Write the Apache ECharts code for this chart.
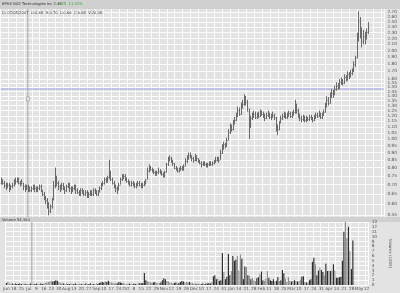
<!DOCTYPE html>
<html><head><meta charset="utf-8">
<script src="https://cdn.jsdelivr.net/npm/echarts@6/dist/echarts.min.js"></script>
<style>html,body{margin:0;padding:0;background:#e3e3e3}#c{width:400px;height:293px}</style>
</head><body><div id="c"></div>
<script>
// ---- data ----
const opens = [
0.71,0.72,0.71,0.70,0.69,0.70,0.68,0.69,
0.70,0.71,0.72,0.73,0.71,0.70,
0.71,0.69,0.68,0.69,0.68,0.67,0.68,0.69,0.68,0.67,0.68,0.69,
0.67,0.65,0.63,0.62,0.60,0.57,0.59,
0.63,0.70,0.74,
0.71,0.69,0.68,0.70,0.68,0.67,0.69,0.70,0.68,0.67,0.68,0.69,
0.67,0.66,0.65,0.67,0.66,0.65,0.66,0.64,0.65,0.66,0.65,0.67,0.66,0.65,
0.66,0.68,0.70,0.71,0.73,0.72,
0.74,
0.77,0.73,0.71,0.69,0.68,0.67,
0.70,0.73,0.74,0.75,
0.73,0.72,0.71,0.70,0.71,0.70,0.69,0.70,0.71,0.70,0.69,0.70,0.71,
0.73,0.78,0.80,
0.79,0.78,0.77,0.76,0.77,0.78,0.77,0.76,0.75,
0.77,0.82,0.85,0.86,0.84,
0.83,0.80,0.79,0.78,0.79,0.80,0.79,
0.81,0.84,0.86,0.88,0.87,0.86,0.85,0.87,
0.86,0.84,0.83,0.82,0.83,0.82,0.81,0.82,0.83,0.82,0.83,
0.84,0.85,0.86,
0.85,0.90,0.94,0.96,0.95,
0.99,1.06,1.10,1.08,1.14,
1.16,1.20,1.26,1.22,1.30,1.32,1.38,1.34,
1.25,
1.10,1.18,1.20,1.22,1.19,1.21,1.20,1.23,1.22,1.20,1.18,1.21,1.22,1.19,1.20,1.21,
1.19,1.10,1.08,
1.14,1.18,1.20,1.22,1.19,1.21,1.23,1.20,1.22,
1.24,1.30,
1.26,1.20,1.18,1.17,1.19,1.16,1.18,1.17,1.19,1.18,
1.16,1.19,1.21,1.20,1.22,1.19,1.21,
1.24,1.30,1.36,1.33,1.40,1.44,1.42,1.48,
1.52,1.50,1.56,1.58,1.55,1.62,1.60,1.66,1.64,1.68,
1.70,1.80,
1.90,2.20,
2.50,2.30,2.15,2.25,
2.20,2.32
];
const closes = [
0.72,0.71,0.70,0.69,0.70,0.68,0.69,0.70,
0.71,0.72,0.73,0.71,0.70,0.72,
0.69,0.68,0.69,0.68,0.67,0.68,0.69,0.68,0.67,0.68,0.69,0.67,
0.65,0.63,0.62,0.60,0.57,0.59,0.62,
0.70,0.74,0.71,
0.69,0.68,0.70,0.68,0.67,0.69,0.70,0.68,0.67,0.68,0.69,0.67,
0.66,0.65,0.67,0.66,0.65,0.66,0.64,0.65,0.66,0.65,0.67,0.66,0.65,0.66,
0.68,0.70,0.71,0.73,0.72,0.74,
0.78,
0.73,0.71,0.69,0.68,0.67,0.70,
0.73,0.74,0.75,0.73,
0.72,0.71,0.70,0.71,0.70,0.69,0.70,0.71,0.70,0.69,0.70,0.71,0.72,
0.78,0.80,0.79,
0.78,0.77,0.76,0.77,0.78,0.77,0.76,0.75,0.77,
0.82,0.85,0.86,0.84,0.83,
0.80,0.79,0.78,0.79,0.80,0.79,0.81,
0.84,0.86,0.88,0.87,0.86,0.85,0.87,0.86,
0.84,0.83,0.82,0.83,0.82,0.81,0.82,0.83,0.82,0.83,0.84,
0.85,0.86,0.85,
0.90,0.94,0.96,0.95,0.99,
1.06,1.10,1.08,1.14,1.16,
1.20,1.26,1.22,1.30,1.32,1.38,1.34,1.28,
1.10,
1.18,1.20,1.22,1.19,1.21,1.20,1.23,1.22,1.20,1.18,1.21,1.22,1.19,1.20,1.21,1.19,
1.10,1.08,1.14,
1.18,1.20,1.22,1.19,1.21,1.23,1.20,1.22,1.24,
1.30,1.26,
1.20,1.18,1.17,1.19,1.16,1.18,1.17,1.19,1.18,1.16,
1.19,1.21,1.20,1.22,1.19,1.21,1.24,
1.30,1.36,1.33,1.40,1.44,1.42,1.48,1.52,
1.50,1.56,1.58,1.55,1.62,1.60,1.66,1.64,1.68,1.70,
1.80,1.88,
2.20,2.55,
2.30,2.15,2.25,2.20,
2.32,2.40
];
const lows = [
0.70,0.70,0.68,0.67,0.68,0.66,0.67,0.68,
0.69,0.70,0.71,0.70,0.69,0.70,
0.67,0.66,0.67,0.66,0.66,0.66,0.67,0.66,0.66,0.66,0.67,0.66,
0.64,0.62,0.60,0.58,0.55,0.56,0.58,
0.62,0.68,0.69,
0.67,0.66,0.67,0.67,0.65,0.66,0.68,0.66,0.65,0.66,0.67,0.65,
0.65,0.64,0.64,0.65,0.64,0.64,0.63,0.63,0.64,0.64,0.64,0.65,0.64,0.64,
0.66,0.67,0.69,0.70,0.71,0.71,
0.73,
0.72,0.70,0.68,0.66,0.65,0.67,
0.70,0.72,0.73,0.72,
0.71,0.70,0.69,0.69,0.69,0.68,0.68,0.69,0.69,0.68,0.68,0.69,0.70,
0.73,0.77,0.78,
0.77,0.76,0.75,0.75,0.76,0.76,0.75,0.74,0.74,
0.77,0.81,0.84,0.83,0.81,
0.79,0.78,0.77,0.77,0.78,0.78,0.78,
0.81,0.83,0.85,0.86,0.84,0.83,0.84,0.84,
0.83,0.82,0.80,0.81,0.81,0.80,0.80,0.81,0.81,0.81,0.82,
0.83,0.84,0.83,
0.85,0.89,0.92,0.93,0.94,
0.99,1.04,1.06,1.07,1.12,
1.15,1.19,1.20,1.21,1.27,1.30,1.30,1.24,
1.00,
1.09,1.16,1.18,1.17,1.17,1.18,1.19,1.20,1.18,1.15,1.17,1.19,1.17,1.16,1.18,1.16,
1.06,1.03,1.07,
1.13,1.16,1.18,1.17,1.17,1.19,1.18,1.18,1.20,
1.22,1.22,
1.18,1.15,1.14,1.15,1.14,1.14,1.15,1.15,1.16,1.14,
1.15,1.17,1.18,1.19,1.17,1.17,1.20,
1.23,1.28,1.30,1.32,1.38,1.38,1.41,1.46,
1.47,1.48,1.53,1.52,1.54,1.57,1.58,1.60,1.62,1.65,
1.69,1.76,
1.88,2.15,
2.20,2.05,2.10,2.10,
2.18,2.28
];
const highs = [
0.74,0.73,0.72,0.71,0.71,0.71,0.70,0.71,
0.73,0.74,0.74,0.74,0.72,0.73,
0.71,0.70,0.70,0.70,0.69,0.69,0.70,0.70,0.69,0.69,0.70,0.70,
0.67,0.66,0.64,0.63,0.61,0.60,0.63,
0.72,0.80,0.75,
0.72,0.70,0.71,0.71,0.69,0.70,0.71,0.71,0.69,0.69,0.70,0.70,
0.68,0.67,0.68,0.68,0.67,0.67,0.67,0.66,0.67,0.67,0.68,0.68,0.67,0.67,
0.69,0.71,0.72,0.74,0.74,0.75,
0.85,
0.78,0.74,0.72,0.70,0.69,0.71,
0.74,0.76,0.76,0.76,
0.74,0.73,0.72,0.72,0.72,0.71,0.71,0.72,0.72,0.71,0.71,0.72,0.73,
0.80,0.82,0.81,
0.80,0.79,0.78,0.78,0.80,0.79,0.78,0.77,0.78,
0.83,0.87,0.88,0.87,0.85,
0.83,0.81,0.80,0.80,0.81,0.81,0.82,
0.86,0.88,0.90,0.90,0.88,0.87,0.89,0.88,
0.86,0.85,0.84,0.84,0.84,0.83,0.83,0.84,0.84,0.84,0.85,
0.87,0.87,0.87,
0.92,0.96,0.98,0.97,1.01,
1.08,1.13,1.12,1.16,1.19,
1.23,1.29,1.28,1.33,1.36,1.42,1.40,1.36,
1.27,
1.20,1.23,1.25,1.24,1.23,1.24,1.26,1.25,1.24,1.22,1.23,1.25,1.23,1.22,1.24,1.22,
1.19,1.12,1.15,
1.20,1.22,1.24,1.23,1.23,1.25,1.24,1.24,1.26,
1.36,1.32,
1.27,1.22,1.20,1.21,1.20,1.20,1.19,1.21,1.21,1.19,
1.21,1.23,1.23,1.25,1.23,1.23,1.26,
1.33,1.40,1.39,1.44,1.48,1.47,1.52,1.56,
1.55,1.60,1.62,1.60,1.66,1.65,1.70,1.69,1.72,1.74,
1.84,1.92,
2.30,2.72,
2.60,2.40,2.35,2.32,
2.38,2.50
];
// volume in units of 100K shares
const volumes = [
0.4,0.6,0.3,0.2,0.3,0.2,0.3,0.2,
0.2,0.3,0.2,0.2,0.3,0.2,
0.2,0.2,0.3,0.2,0.2,0.2,0.3,0.2,0.2,0.3,0.2,0.3,
0.4,0.5,0.6,0.7,0.9,0.7,0.8,
1.0,0.9,0.6,
0.4,0.3,0.3,0.2,0.3,0.2,0.2,0.3,0.2,0.2,0.3,0.2,
0.2,0.3,0.2,0.2,0.2,0.3,0.2,0.2,0.3,0.2,0.2,0.2,0.3,0.2,
0.4,0.5,0.6,0.5,0.7,0.6,
0.9,
0.6,0.5,0.4,0.3,0.4,0.3,
0.6,0.5,0.4,0.3,
0.3,0.2,0.2,0.3,0.2,0.2,0.3,0.2,0.2,0.3,0.4,0.3,0.4,
2.5,1.0,0.8,
0.6,0.5,0.4,0.5,0.6,0.4,0.3,0.4,0.5,
1.0,1.4,1.2,0.8,0.7,
0.5,0.4,0.3,0.4,0.5,0.3,0.4,
0.6,0.8,0.7,0.5,0.6,0.5,0.6,0.4,
0.4,0.3,0.3,0.2,0.3,0.2,0.2,0.3,0.2,0.3,0.3,
0.4,0.3,0.5,
1.8,2.0,1.2,1.3,0.9,
1.0,6.6,2.7,1.2,1.7,
6.4,2.0,2.9,6.0,5.0,5.2,6.0,3.0,
6.3,
5.4,1.2,3.8,3.7,2.0,1.9,1.2,1.5,1.0,0.8,1.4,1.6,2.2,2.8,1.0,0.9,
1.3,2.9,1.5,
1.0,0.8,1.2,0.7,0.9,1.6,0.8,1.0,3.1,
2.4,1.3,
0.6,1.6,0.9,0.7,0.8,1.0,0.9,0.7,0.8,1.1,
1.7,1.8,0.6,0.5,0.4,1.0,1.2,
4.8,5.6,4.3,2.0,3.0,3.6,3.1,2.7,
2.0,4.4,2.9,3.0,2.9,3.0,4.3,3.0,1.5,1.5,1.6,
1.7,5.0,11.0,13.0,9.7,12.0,7.0,3.3,9.2
];
const priceTicks = [2.70,2.60,2.50,2.40,2.30,2.20,2.10,2.00,1.90,1.80,1.70,1.60,1.55,1.50,1.45,1.40,1.35,1.30,1.25,1.20,1.15,1.10,1.05,1.00,0.95,0.90,0.85,0.80,0.75,0.70,0.65,0.60,0.55];
const priceMin = 0.543, priceMax = 2.77;
const volMax = 13;
const refLine = 1.48;
const markerIndex = 17;
const markerPrice = 1.37;
const monthNames = ['Jan','Feb','Mar','Apr','May','Jun','Jul','Aug','Sep','Oct','Nov','Dec'];
const titleText = 'BPHX BG2 Technologies Inc 2.48';
const changeText = '0.25  11.21%';
const infoText = 'D: 07/05/2007  O:0.69  H:0.70  L:0.66  C:0.68  V:20.0K';
const volTitle = 'Volume 54,300';

// trading-day categories (weekdays) from 2007-06-11, with room after the last bar
const nCats = 242;
const dates = [];
{
  const d = new Date(Date.UTC(2007, 5, 11));
  while (dates.length < nCats) {
    const wd = d.getUTCDay();
    if (wd > 0 && wd < 6) dates.push(d.toISOString().slice(0, 10));
    d.setUTCDate(d.getUTCDate() + 1);
  }
}
const isWeekStart = (idx) => new Date(dates[idx] + 'T00:00:00Z').getUTCDay() === 1;
const xFmt = (val, idx) => {
  const d = new Date(val + 'T00:00:00Z');
  const day = d.getUTCDate();
  if (idx === 0 || day <= 7) return monthNames[d.getUTCMonth()];
  return String(day);
};

const ohlc = closes.map((c, i) => [i, opens[i], c, lows[i], highs[i]]);
const barColor = '#6a6a6a';
const FONT = 'DejaVu Sans';
const BG = '#e3e3e3';
const GRIDLINE = '#fbfbfb';

const chart = echarts.init(document.getElementById('c'));
chart.setOption({
  animation: false,
  backgroundColor: BG,
  textStyle: { fontFamily: FONT },
  tooltip: { show: false },
  graphic: [
    { type: 'rect', left: 0, top: 0, shape: { width: 400, height: 9 }, style: { fill: '#d0d0d0' }, z: 0 },
    { type: 'text', left: 2, top: 2.2, style: { text: titleText, fontSize: 3.7, fill: '#333', fontFamily: FONT } },
    { type: 'text', left: 58, top: 2.2, style: { text: changeText, fontSize: 3.7, fill: '#22aa22', fontFamily: FONT } },
    { type: 'text', left: 2, top: 10.8, style: { text: infoText, fontSize: 3.7, fill: '#333', fontFamily: FONT }, z: 10 },
    { type: 'rect', left: 0, top: 217, shape: { width: 400, height: 5 }, style: { fill: '#d0d0d0' }, z: 0 },
    { type: 'text', left: 2, top: 217.8, style: { text: volTitle, fontSize: 3.7, fill: '#333', fontFamily: FONT } }
  ],
  grid: [
    { left: 0, right: 13, top: 9, height: 208, show: true, backgroundColor: BG, borderWidth: 0 },
    { left: 0, right: 13, top: 222, height: 63, show: true, backgroundColor: BG, borderWidth: 0 }
  ],
  xAxis: [
    { type: 'category', gridIndex: 0, data: dates, axisLine: { show: false }, axisTick: { show: false },
      axisLabel: { show: false }, axisPointer: { show: false },
      splitLine: { show: true, interval: isWeekStart, lineStyle: { color: GRIDLINE, width: 1, type: 'solid' } } },
    { type: 'category', gridIndex: 1, data: dates, axisLine: { show: false }, axisTick: { show: false },
      axisPointer: { show: false },
      axisLabel: { show: true, interval: isWeekStart, formatter: xFmt, fontSize: 4.3, color: '#555', margin: 2, fontFamily: FONT },
      splitLine: { show: true, interval: isWeekStart, lineStyle: { color: GRIDLINE, width: 1, type: 'solid' } } }
  ],
  yAxis: [
    { type: 'log', logBase: 10, gridIndex: 0, position: 'right', min: priceMin, max: priceMax,
      axisLine: { show: false },
      axisTick: { show: false, customValues: priceTicks },
      axisLabel: { customValues: priceTicks, formatter: v => Number(v).toFixed(2), fontSize: 4.3, color: '#555', margin: 3, fontFamily: FONT },
      splitLine: { show: true, lineStyle: { color: GRIDLINE, width: 1, type: 'solid' } } },
    { type: 'value', gridIndex: 1, position: 'right', min: 0, max: volMax, interval: 1,
      axisLine: { show: false }, axisTick: { show: false },
      axisLabel: { fontSize: 4.3, color: '#555', margin: 3, fontFamily: FONT },
      splitLine: { show: true, lineStyle: { color: GRIDLINE, width: 1, type: 'solid' } },
      name: 'Volume (100K)', nameLocation: 'middle', nameRotate: -90, nameGap: 9,
      nameTextStyle: { fontSize: 4, color: '#555', fontFamily: FONT } }
  ],
  series: [
    {
      name: 'refline', type: 'line', xAxisIndex: 0, yAxisIndex: 0, z: 2, silent: true,
      data: [[dates[0], refLine], [dates[nCats - 1], refLine]],
      showSymbol: false, symbol: 'none',
      lineStyle: { color: '#a0a0ea', width: 1, type: 'solid' }
    },
    {
      name: 'crosshair', type: 'line', xAxisIndex: 0, yAxisIndex: 0, z: 2, silent: true,
      data: [[dates[markerIndex], priceMin], [dates[markerIndex], priceMax]],
      showSymbol: false, symbol: 'none',
      lineStyle: { color: '#a8a8a8', width: 1, type: 'solid' }
    },
    {
      name: 'crosshairVol', type: 'line', xAxisIndex: 1, yAxisIndex: 1, z: 2, silent: true,
      data: [[dates[markerIndex], 0], [dates[markerIndex], volMax]],
      showSymbol: false, symbol: 'none',
      lineStyle: { color: '#a8a8a8', width: 1, type: 'solid' }
    },
    {
      name: 'marker', type: 'scatter', xAxisIndex: 0, yAxisIndex: 0, z: 4, silent: true,
      data: [[dates[markerIndex], markerPrice]],
      symbol: 'rect', symbolSize: [3, 4],
      itemStyle: { color: '#f4f4f4', borderColor: '#777', borderWidth: 0.6 }
    },
    {
      name: 'price', type: 'custom', xAxisIndex: 0, yAxisIndex: 0, z: 3, silent: true,
      data: ohlc,
      encode: { x: 0, y: [1, 2, 3, 4] },
      renderItem: (params, api) => {
        const i = api.value(0);
        const o = api.coord([i, api.value(1)]);
        const c = api.coord([i, api.value(2)]);
        const l = api.coord([i, api.value(3)]);
        const h = api.coord([i, api.value(4)]);
        const px = Math.round(h[0]) + 0.5;
        const st = { stroke: barColor, lineWidth: 1 };
        return { type: 'group', children: [
          { type: 'line', shape: { x1: px, y1: l[1], x2: px, y2: h[1] }, style: st },
          { type: 'line', shape: { x1: px - 1, y1: Math.round(o[1]) + 0.5, x2: px, y2: Math.round(o[1]) + 0.5 }, style: { stroke: barColor, lineWidth: 1, opacity: 0.6 } },
          { type: 'line', shape: { x1: px, y1: Math.round(c[1]) + 0.5, x2: px + 1, y2: Math.round(c[1]) + 0.5 }, style: { stroke: barColor, lineWidth: 1, opacity: 0.6 } }
        ] };
      }
    },
    {
      name: 'volume', type: 'bar', xAxisIndex: 1, yAxisIndex: 1, data: volumes, barWidth: 1, z: 3, silent: true,
      itemStyle: { color: p => (closes[p.dataIndex] >= opens[p.dataIndex] ? '#111111' : '#808080') }
    }
  ]
});
</script>
</body></html>
